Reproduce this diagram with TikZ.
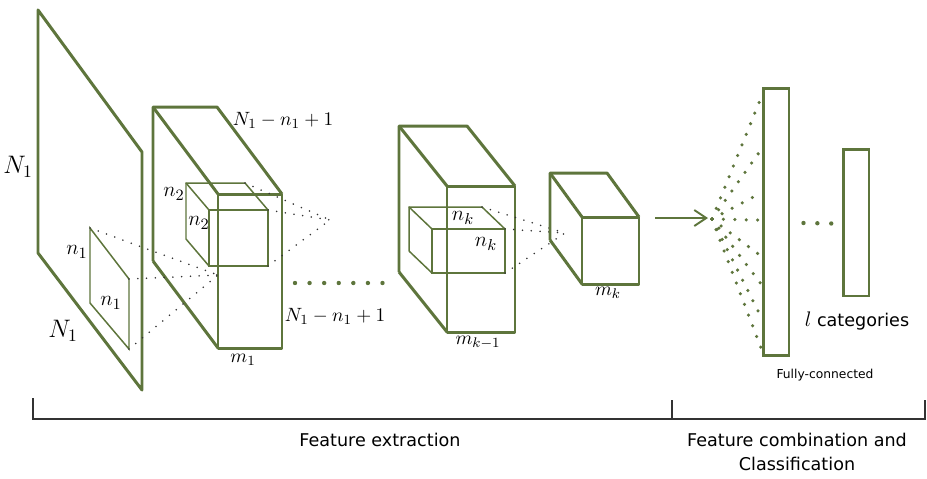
\documentclass[tikz,border=0pt]{standalone}
\usepackage{fontspec}
\newfontfamily\labelfont{DejaVu Sans}
\usetikzlibrary{positioning,arrows.meta,calc}
\definecolor{cnnGreen}{RGB}{94,117,60}
\def\thickW{1.7pt}
\def\thinW{0.85pt}
\tikzset
{
  Cuboid/.pic =
  {
    \draw [pic actions] (0,\cubH) -- (0,0) -- (\cubW,0) -- ++(\cubDx,\cubDy);
    \draw [pic actions] (0,0) -- ++(\cubDx,\cubDy);
    \draw [pic actions] (0,\cubH) -- ++(\cubDx,\cubDy);
    \draw [pic actions] (\cubDx,\cubDy) rectangle ++(\cubW,\cubH);
    \coordinate (-btr) at (\cubW,0);
    \coordinate (-ftr) at (\cubDx+\cubW,\cubDy);
    \coordinate (-fbr) at (\cubDx+\cubW,\cubDy+\cubH);
  },
  Block/.style={draw=cnnGreen, line width=\thickW, line join=round},
  Inner/.style={draw=cnnGreen, line width=\thinW},
  Layer/.style={draw=cnnGreen, line width=\thickW, minimum width=0.52cm, inner sep=0pt},
  Dots/.style={black!80, line width=1pt, line cap=round, dash pattern=on 0pt off 5pt},
  FanDots/.style={cnnGreen, line width=2pt, line cap=round, dash pattern=on 0pt off 6.5pt},
  BigDots/.style={cnnGreen, line width=2.5pt, line cap=round, dash pattern=on 0pt off 8.3pt},
  Arrow/.style={cnnGreen, line width=1.1pt, -{Straight Barb[length=2.4mm,width=3.2mm]}},
  Bracket/.style={black!80, line width=1pt},
}

\begin{document}
\begin{tikzpicture}
[
  x=0.02cm, y=-0.02cm, % one unit = one pixel of the drawing
  bigLbl/.style={font=\fontsize{14}{14}\selectfont, inner sep=0pt},
  midLbl/.style={font=\fontsize{12.5}{12.5}\selectfont, inner sep=0pt},
  smallLbl/.style={font=\fontsize{11}{11}\selectfont, inner sep=0pt},
  sideText/.style={font=\labelfont\fontsize{10}{14}\selectfont, align=center},
]
\useasboundingbox (0,0) rectangle (927,478);

% input image
\draw [Block] (38,10) -- (142,152) -- (142,390) -- (38,253) -- cycle;
\coordinate (winA) at (90,228);
\coordinate (winB) at (129,279);
\coordinate (winC) at (129,349);
\draw [Inner] (winA) -- (winB) -- (winC) -- (90,303) -- cycle;
\node (inH) [bigLbl] at (18,167) {$N_1$};
\node (inW) [bigLbl] at (63,331) {$N_1$};
\node (winH) [midLbl] at (77,252) {$n_1$};
\node (winW) [midLbl] at (111,303) {$n_1$};

% first convolution block
\def\cubW{64}\def\cubH{154}\def\cubDx{65}\def\cubDy{87}
\pic (blkA) [Block] at (153,107) {Cuboid};
\def\cubW{59}\def\cubH{56}\def\cubDx{23}\def\cubDy{27}
\pic (kerA) [Inner] at (186,183) {Cuboid};
\coordinate (hubA) at (218,275);
\coordinate (hubB) at (330,220);
\foreach \c in {winA,winB,winC}
  \draw [Dots] (\c) -- (hubA);
\foreach \c in {kerA-btr,kerA-ftr,kerA-fbr}
  \draw [Dots] (\c) -- (hubB);
\node (blkAtop) [smallLbl] at (283,120) {$N_1-n_1+1$};
\node (blkAside) [smallLbl] at (335,316) {$N_1-n_1+1$};
\node (blkAw) [smallLbl] at (243,360) {$m_1$};
\node (kerAh) [midLbl] at (174,194) {$n_2$};
\node (kerAw) [midLbl] at (199,223) {$n_2$};

\draw [BigDots] (295,283) -- (392,283);

% block k-1
\def\cubW{68}\def\cubH{146}\def\cubDx{48}\def\cubDy{60}
\pic (blkK) [Block] at (399,126) {Cuboid};
\def\cubW{73}\def\cubH{44}\def\cubDx{23}\def\cubDy{22}
\pic (kerK) [Inner] at (409,207) {Cuboid};
\coordinate (hubK) at (565,233);
\foreach \c in {kerK-btr,kerK-ftr,kerK-fbr}
  \draw [Dots] (\c) -- (hubK);
\node (kerKh) [midLbl] at (463,218) {$n_k$};
\node (kerKw) [midLbl] at (486,244) {$n_k$};
\node (blkKw) [smallLbl] at (478,343) {$m_{k-1}$};

% block k
\def\cubW{57}\def\cubH{67}\def\cubDx{32}\def\cubDy{44}
\pic (blkM) [Block] at (550,173) {Cuboid};
\node (blkMw) [smallLbl] at (608,293) {$m_k$};

% classifier
\coordinate (arrowTail) at (655,218);
\coordinate (fanHub) at (712,219);
\draw [Arrow] (arrowTail) -- ++(53,0);
\node (fc) [Layer, minimum height=5.36cm] at (776,222) {};
\node (outL) [Layer, minimum height=2.94cm] at (856,222.5) {};
\foreach \t in {0.037,0.231,0.392,0.493,0.627,0.731,0.854,0.970}
  \draw [FanDots] (fanHub) -- ($(fc.north west)!\t!(fc.south west)$);
\draw [BigDots, dash pattern=on 0pt off 7.9pt] ($(fc.east)+(13,1)$) -- ($(outL.west)+(-10,1)$);
\node (cats) [font=\labelfont\fontsize{10}{10}\selectfont] at (857,321) {{\fontsize{13}{13}\selectfont$l$} categories};
\node (fcName) [font=\labelfont\fontsize{7}{7}\selectfont] at (825,375) {Fully-connected};

% stages
\draw [Bracket] (33,398) -- (33,419) -- (925,419) -- (925,400);
\draw [Bracket] (672,400) -- (672,419);
\node (featExt) [sideText] at (380,440) {Feature extraction};
\node (featComb) [sideText] at (797,452) {Feature combination and\\Classification};
\end{tikzpicture}
\end{document}
